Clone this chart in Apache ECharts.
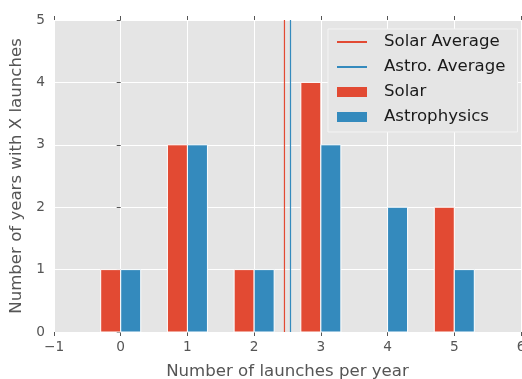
<!DOCTYPE html>
<html>
<head>
<meta charset="utf-8">
<script src="https://cdn.jsdelivr.net/npm/echarts@6/dist/echarts.min.js"></script>
<style>html,body{margin:0;padding:0;background:#fff;}#c{width:522px;height:379px;}</style>
</head>
<body>
<div id="c"></div>
<script>
const launchCounts = [0, 1, 2, 3, 4, 5];
const solarYears = [1, 3, 1, 4, 0, 2];
const astroYears = [1, 3, 1, 3, 2, 1];
const solarAverage = 2.4545;
const astroAverage = 2.545;
const xTicks = [-1, 0, 1, 2, 3, 4, 5, 6];
const yTicks = [0, 1, 2, 3, 4, 5];

const RED = '#E24A33', BLUE = '#348ABD';
const FONT = 'DejaVu Sans';
const BAR_W = 0.3;

function barRender(offset) {
  return function (params, api) {
    const x = api.value(0), y = api.value(1);
    if (!y) return null;
    const p0 = api.coord([x + offset, y]);
    const p1 = api.coord([x + offset + BAR_W, 0]);
    return {
      type: 'rect',
      shape: { x: p0[0], y: p0[1], width: p1[0] - p0[0], height: p1[1] - p0[1] },
      style: { fill: api.visual('color'), stroke: '#ffffff', lineWidth: 1 }
    };
  };
}

const chart = echarts.init(document.getElementById('c'), null, { renderer: 'canvas' });
const axisLbl = { color: '#555555', fontFamily: FONT, fontSize: 13.7 };
chart.setOption({
  animation: false,
  backgroundColor: '#ffffff',
  grid: { left: 54, right: 1, top: 20, bottom: 47, show: true, backgroundColor: '#E5E5E5', borderWidth: 0, outerBoundsMode: 'none', containLabel: false },
  xAxis: [{
    type: 'value', min: xTicks[0], max: xTicks[xTicks.length - 1], interval: 1,
    name: 'Number of launches per year', nameLocation: 'middle', nameGap: 31,
    nameTextStyle: { color: '#555555', fontFamily: FONT, fontSize: 16.6 },
    axisLine: { show: false },
    axisTick: { show: true, inside: false, length: 4, lineStyle: { color: '#555555' } },
    axisLabel: Object.assign({ margin: 8, formatter: v => (v < 0 ? '\u2212' + Math.abs(v) : String(v)) }, axisLbl),
    splitLine: { show: true, lineStyle: { color: '#ffffff', width: 1 } }
  }, {
    type: 'value', position: 'top', min: xTicks[0], max: xTicks[xTicks.length - 1], interval: 1,
    axisLine: { show: false }, axisLabel: { show: false }, splitLine: { show: false },
    axisTick: { show: true, length: 4, lineStyle: { color: '#555555' } }
  }],
  yAxis: [{
    type: 'value', min: yTicks[0], max: yTicks[yTicks.length - 1], interval: 1,
    name: 'Number of years with X launches', nameLocation: 'middle', nameGap: 29,
    nameTextStyle: { color: '#555555', fontFamily: FONT, fontSize: 16.6 },
    axisLine: { show: false },
    axisTick: { show: true, length: 4, lineStyle: { color: '#555555' } },
    axisLabel: Object.assign({ margin: 9 }, axisLbl),
    splitLine: { show: true, lineStyle: { color: '#ffffff', width: 1 } }
  }],
  legend: {
    left: 328, top: 29, orient: 'vertical',
    padding: [3, 12, 5, 8], itemGap: 5, itemWidth: 30, itemHeight: 10,
    backgroundColor: '#E5E5E5', borderColor: '#f4f4f4', borderWidth: 1,
    textStyle: { color: '#1a1a1a', fontFamily: FONT, fontSize: 16.6, lineHeight: 20, padding: [0, 0, 0, 12] },
    data: [
      { name: 'Solar Average', itemStyle: { opacity: 0 } },
      { name: 'Astro. Average', itemStyle: { opacity: 0 } },
      { name: 'Solar', icon: 'rect' },
      { name: 'Astrophysics', icon: 'rect' }
    ]
  },
  series: [
    {
      name: 'Solar', type: 'custom', z: 2, itemStyle: { color: RED },
      renderItem: barRender(-BAR_W), encode: { x: 0, y: 1 },
      data: launchCounts.map((x, i) => [x, solarYears[i]])
    },
    {
      name: 'Astrophysics', type: 'custom', z: 2, itemStyle: { color: BLUE },
      renderItem: barRender(0), encode: { x: 0, y: 1 },
      data: launchCounts.map((x, i) => [x, astroYears[i]])
    },
    {
      name: 'Solar Average', type: 'line', z: 3, symbol: 'none', showSymbol: false, color: RED,
      lineStyle: { color: RED, width: 1.2 },
      data: [[solarAverage, yTicks[0]], [solarAverage, yTicks[yTicks.length - 1]]]
    },
    {
      name: 'Astro. Average', type: 'line', z: 3, symbol: 'none', showSymbol: false, color: BLUE,
      lineStyle: { color: BLUE, width: 1.2 },
      data: [[astroAverage, yTicks[0]], [astroAverage, yTicks[yTicks.length - 1]]]
    }
  ]
});
</script>
</body>
</html>
